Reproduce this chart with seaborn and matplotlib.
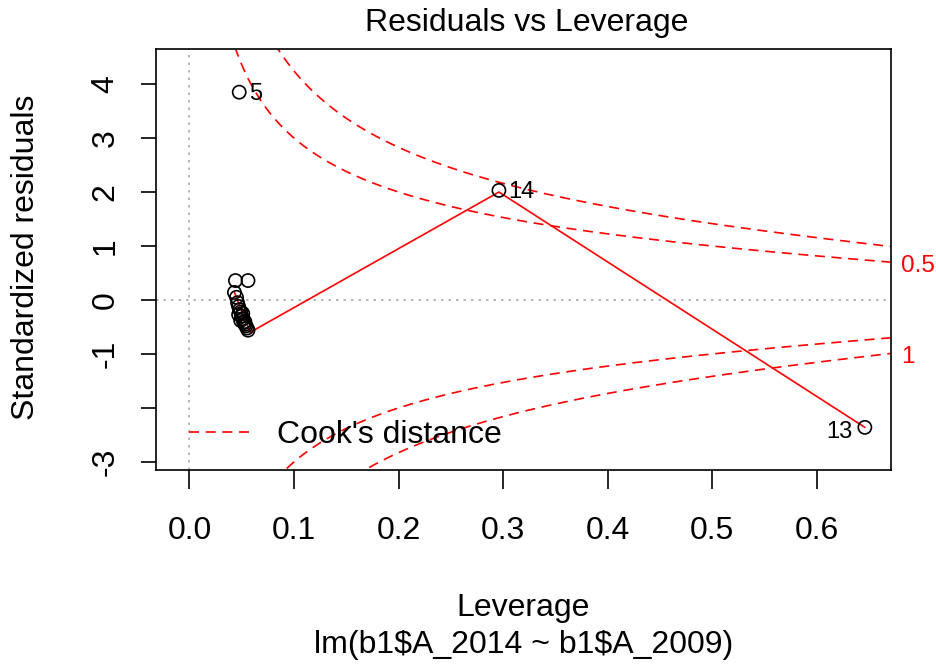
import numpy as np
import pandas as pd
import matplotlib
matplotlib.use("Agg")
import matplotlib.pyplot as plt
import seaborn as sns

# Values (R plot.lm, which = 5)
leverage = [0.044, 0.056, 0.043, 0.045, 0.046, 0.047, 0.048, 0.049, 0.047, 0.050,
            0.051, 0.049, 0.052, 0.053, 0.054, 0.055, 0.056, 0.051, 0.053,
            0.0476, 0.296, 0.646]
std_resid = [0.36, 0.36, 0.14, 0.05, -0.05, -0.12, -0.18, -0.22, -0.27, -0.30,
             -0.35, -0.38, -0.42, -0.45, -0.48, -0.52, -0.56, -0.25, -0.40,
             3.85, 2.03, -2.36]
obs_id = list(range(1, 20)) + [5, 14, 13]

# lowess smoother path
smooth_x = [0.043, 0.058, 0.296, 0.646]
smooth_y = [0.14, -0.60, 2.00, -2.36]

# labelled extreme points
label_ids = ["5", "14", "13"]
label_x = [0.0476, 0.296, 0.646]
label_y = [3.85, 2.03, -2.36]

cook_levels = [0.5, 1.0]
n_params = 2

x_ticks = [0.0, 0.1, 0.2, 0.3, 0.4, 0.5, 0.6]
y_ticks = [-3, -2, -1, 0, 1, 2, 3, 4]
y_ticklabels = ["-3", "", "-1", "0", "1", "2", "3", "4"]

sns.set_style("white")
plt.rcParams["font.family"] = ["Liberation Sans", "DejaVu Sans"]
plt.rcParams["text.color"] = "black"
plt.rcParams["axes.labelcolor"] = "black"
plt.rcParams["xtick.color"] = "black"
plt.rcParams["ytick.color"] = "black"

FS = 23
W, H = 937, 666
fig = plt.figure(figsize=(W / 100, H / 100), dpi=100)
ax = fig.add_axes([156 / W, 1 - 470 / H, 735 / W, 421 / H])

xlim = (-0.032, 0.671)
ylim = (-3.15, 4.65)
dash = (0, (6, 4))

# reference lines
ax.axvline(0, color="#aaaaaa", ls=(0, (1.5, 3)), lw=1.2, zorder=0)
ax.axhline(0, color="#aaaaaa", ls=(0, (1.5, 3)), lw=1.2, zorder=0)

df = pd.DataFrame({"leverage": leverage, "resid": std_resid, "id": obs_id})
sns.scatterplot(data=df, x="leverage", y="resid", ax=ax, marker="o", s=90,
                facecolor="none", edgecolor="black", linewidth=1.2, zorder=3)

smooth = pd.DataFrame({"x": smooth_x, "y": smooth_y})
sns.lineplot(data=smooth, x="x", y="y", ax=ax, color="red", lw=1.2,
             estimator=None, sort=False, zorder=2)

# Cook's distance contours
hh = np.linspace(0.005, xlim[1], 300)
for lev in cook_levels:
    cl = np.sqrt(lev * n_params * (1 - hh) / hh)
    ax.plot(hh, cl, color="red", lw=1.2, ls=dash)
    ax.plot(hh, -cl, color="red", lw=1.2, ls=dash)

# point labels
for lid, lx, ly in zip(label_ids, label_x, label_y):
    if lx > 0.5:
        ax.annotate(lid, (lx, ly), xytext=(-9, -3), textcoords="offset points",
                    ha="right", va="center", fontsize=17)
    else:
        ax.annotate(lid, (lx, ly), xytext=(7, -1), textcoords="offset points",
                    ha="left", va="center", fontsize=17)

# Cook's level labels on the right margin
xmax = xlim[1]
ymult = np.sqrt(n_params * (1 - xmax) / xmax)
for lev, sign in [(0.5, 1), (1.0, -1)]:
    yy = sign * np.sqrt(lev) * ymult - 0.07
    ax.text(1.014, (yy - ylim[0]) / (ylim[1] - ylim[0]), f"{lev:g}",
            transform=ax.transAxes, color="red", fontsize=17.5, ha="left", va="center")

ax.set_xlim(*xlim)
ax.set_ylim(*ylim)
ax.set_xticks(x_ticks)
ax.set_xticklabels([f"{v:.1f}" for v in x_ticks], fontsize=FS)
ax.set_yticks(y_ticks)
ax.set_yticklabels(y_ticklabels, fontsize=FS, rotation=90, va="center")
ax.tick_params(axis="x", direction="out", length=14, width=1.2, bottom=True, pad=19)
ax.tick_params(axis="y", direction="out", length=10.5, width=1.2, left=True, pad=15)
for sp in ax.spines.values():
    sp.set_color("black")
    sp.set_linewidth(1.2)
ax.set_xlabel("")
ax.set_ylabel("")

fig.text(527 / W, 1 - 23 / H, "Residuals vs Leverage", fontsize=FS, ha="center", va="center")
fig.text(26 / W, 1 - 257 / H, "Standardized residuals", fontsize=FS, rotation=90,
         ha="center", va="center")
fig.text(523.5 / W, 1 - 608 / H, "Leverage", fontsize=FS, ha="center", va="center")
fig.text(523.5 / W, 1 - 645 / H, r"lm(b1\$A_2014 ~ b1\$A_2009)", fontsize=FS,
         ha="center", va="center")

# legend
ax.plot([], [], color="red", lw=1.2, ls=dash, label="Cook's distance")
ax.legend(loc="center left", frameon=False, fontsize=FS, handlelength=1.9,
          handletextpad=0.85, borderpad=0, borderaxespad=0,
          bbox_to_anchor=(0.045, 0.082))

fig.savefig("out.png", dpi=100)
